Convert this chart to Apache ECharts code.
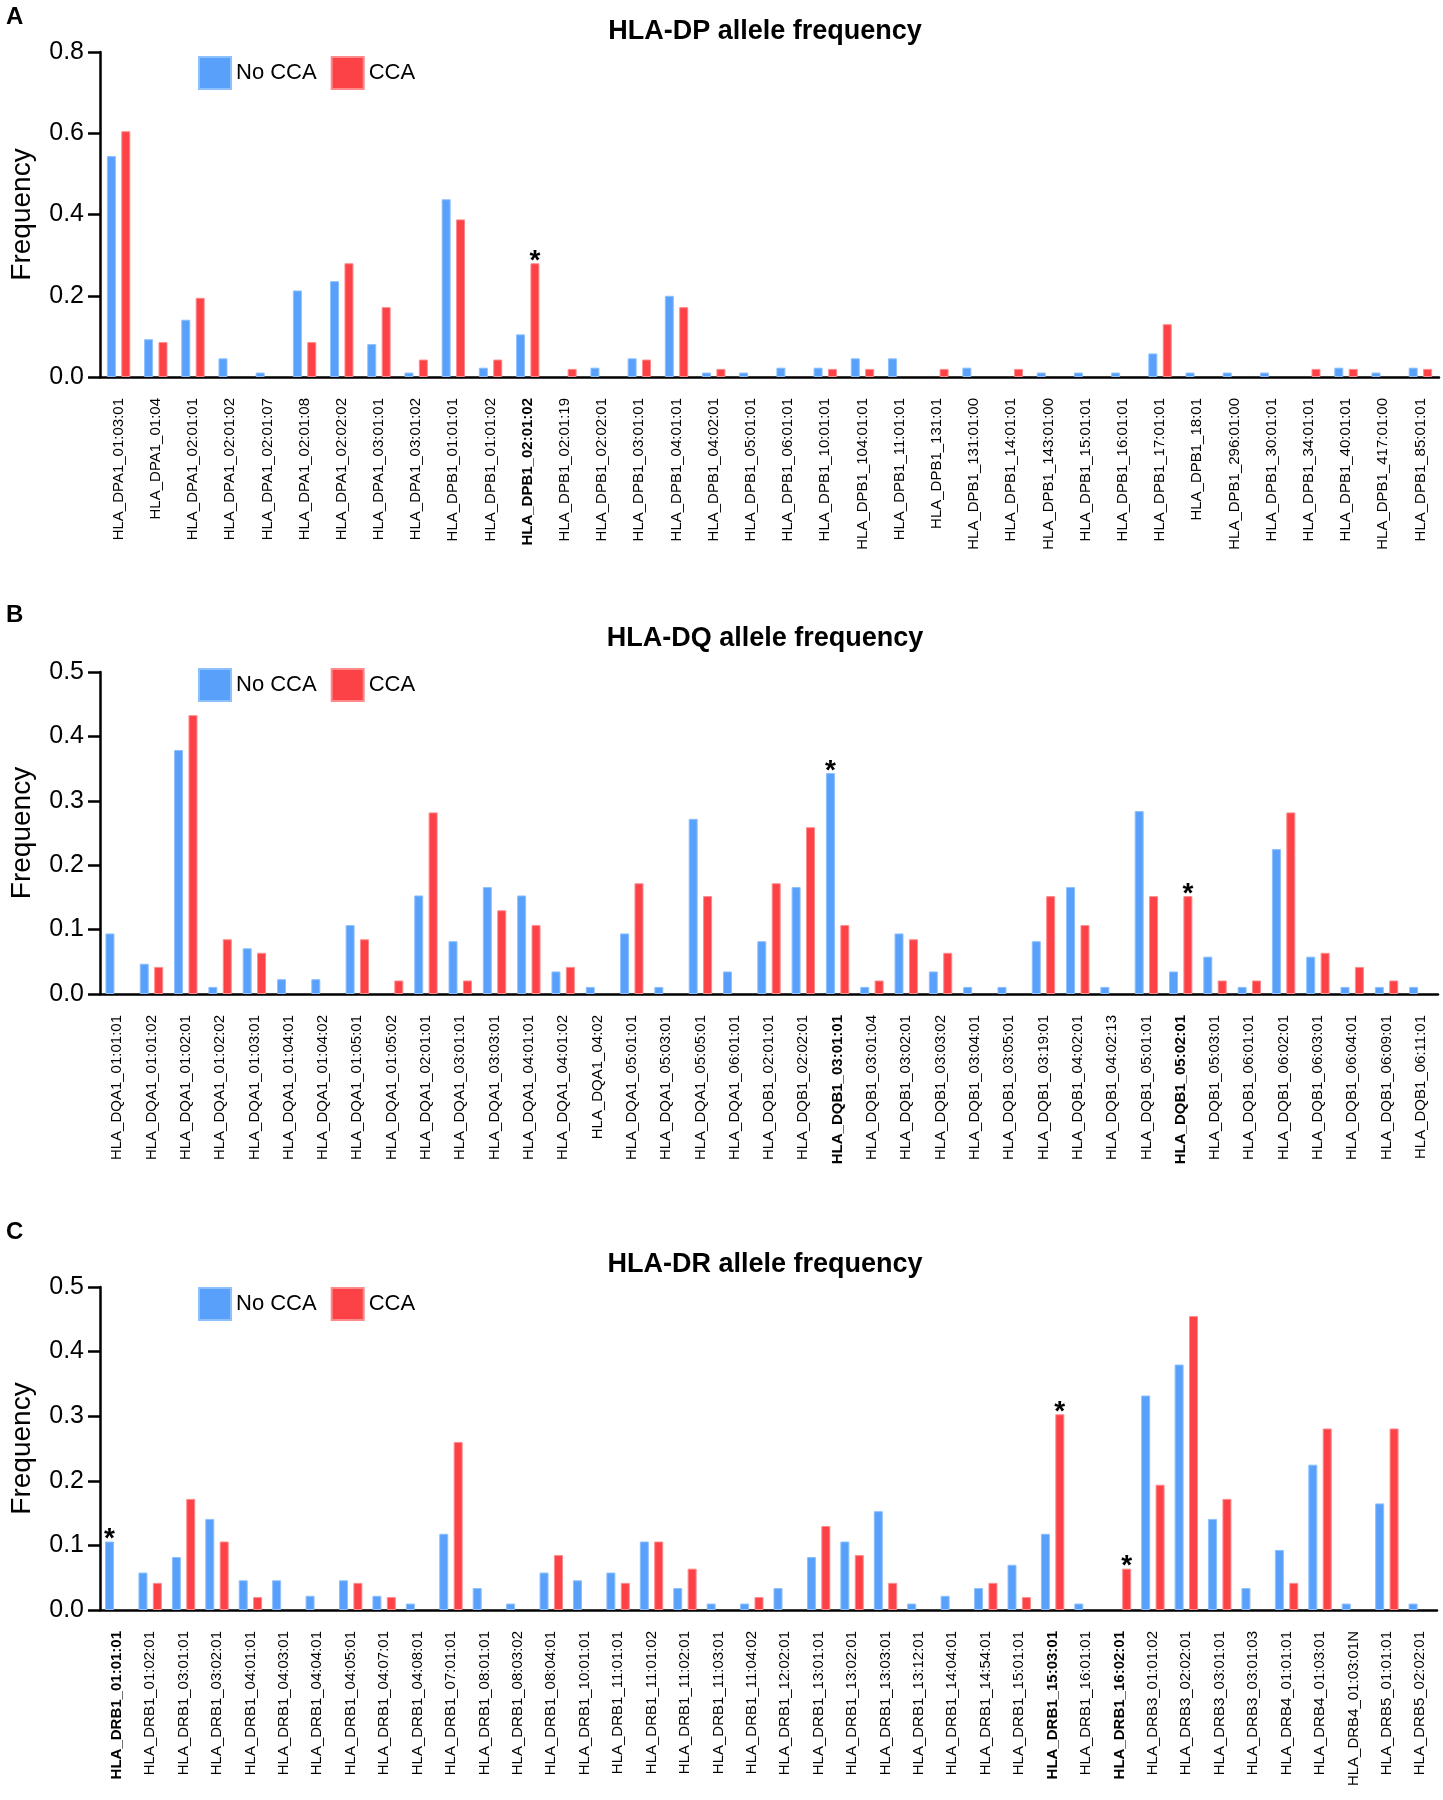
<!DOCTYPE html>
<html>
<head>
<meta charset="utf-8">
<script src="https://cdn.jsdelivr.net/npm/echarts@6/dist/echarts.min.js"></script>
<style>
html,body{margin:0;padding:0;background:#fff;}
#chart{width:1443px;height:1800px;}
</style>
</head>
<body>
<div id="chart"></div>
<script>
// ---------- Panel A : HLA-DP ----------
const catsA = ['HLA_DPA1_01:03:01','HLA_DPA1_01:04','HLA_DPA1_02:01:01','HLA_DPA1_02:01:02','HLA_DPA1_02:01:07','HLA_DPA1_02:01:08','HLA_DPA1_02:02:02','HLA_DPA1_03:01:01','HLA_DPA1_03:01:02','HLA_DPB1_01:01:01','HLA_DPB1_01:01:02','HLA_DPB1_02:01:02','HLA_DPB1_02:01:19','HLA_DPB1_02:02:01','HLA_DPB1_03:01:01','HLA_DPB1_04:01:01','HLA_DPB1_04:02:01','HLA_DPB1_05:01:01','HLA_DPB1_06:01:01','HLA_DPB1_10:01:01','HLA_DPB1_104:01:01','HLA_DPB1_11:01:01','HLA_DPB1_131:01','HLA_DPB1_131:01:00','HLA_DPB1_14:01:01','HLA_DPB1_143:01:00','HLA_DPB1_15:01:01','HLA_DPB1_16:01:01','HLA_DPB1_17:01:01','HLA_DPB1_18:01','HLA_DPB1_296:01:00','HLA_DPB1_30:01:01','HLA_DPB1_34:01:01','HLA_DPB1_40:01:01','HLA_DPB1_417:01:00','HLA_DPB1_85:01:01'];
const noCcaA = [0.544,0.093,0.141,0.046,0.011,0.213,0.236,0.081,0.011,0.4375,0.023,0.105,null,0.023,0.046,0.200,0.011,0.011,0.023,0.023,0.046,0.046,null,0.023,null,0.011,0.011,0.011,0.058,0.011,0.011,0.011,null,0.023,0.011,0.023];
const ccaA = [0.605,0.086,0.195,null,null,0.086,0.280,0.172,0.043,0.388,0.043,0.280,0.020,null,0.043,0.172,0.020,null,null,0.020,0.020,null,0.020,null,0.020,null,null,null,0.130,null,null,null,0.020,0.020,null,0.020];
const boldA = ['HLA_DPB1_02:01:02'];
const starsA = [['CCA','HLA_DPB1_02:01:02']];
const yTicksA = [0, 0.2, 0.4, 0.6, 0.8];

// ---------- Panel B : HLA-DQ ----------
const catsB = ['HLA_DQA1_01:01:01','HLA_DQA1_01:01:02','HLA_DQA1_01:02:01','HLA_DQA1_01:02:02','HLA_DQA1_01:03:01','HLA_DQA1_01:04:01','HLA_DQA1_01:04:02','HLA_DQA1_01:05:01','HLA_DQA1_01:05:02','HLA_DQA1_02:01:01','HLA_DQA1_03:01:01','HLA_DQA1_03:03:01','HLA_DQA1_04:01:01','HLA_DQA1_04:01:02','HLA_DQA1_04:02','HLA_DQA1_05:01:01','HLA_DQA1_05:03:01','HLA_DQA1_05:05:01','HLA_DQA1_06:01:01','HLA_DQB1_02:01:01','HLA_DQB1_02:02:01','HLA_DQB1_03:01:01','HLA_DQB1_03:01:04','HLA_DQB1_03:02:01','HLA_DQB1_03:03:02','HLA_DQB1_03:04:01','HLA_DQB1_03:05:01','HLA_DQB1_03:19:01','HLA_DQB1_04:02:01','HLA_DQB1_04:02:13','HLA_DQB1_05:01:01','HLA_DQB1_05:02:01','HLA_DQB1_05:03:01','HLA_DQB1_06:01:01','HLA_DQB1_06:02:01','HLA_DQB1_06:03:01','HLA_DQB1_06:04:01','HLA_DQB1_06:09:01','HLA_DQB1_06:11:01'];
const noCcaB = [0.094,0.047,0.379,0.011,0.071,0.023,0.023,0.107,null,0.153,0.082,0.166,0.153,0.035,0.011,0.094,0.011,0.272,0.035,0.082,0.166,0.343,0.011,0.094,0.035,0.011,0.011,0.082,0.166,0.011,0.284,0.035,0.058,0.011,0.225,0.058,0.011,0.011,0.011];
const ccaB = [null,0.042,0.433,0.085,0.064,null,null,0.085,0.021,0.282,0.021,0.130,0.107,0.042,null,0.172,null,0.152,null,0.172,0.259,0.107,0.021,0.085,0.064,null,null,0.152,0.107,null,0.152,0.152,0.021,0.021,0.282,0.064,0.042,0.021,null];
const boldB = ['HLA_DQB1_03:01:01','HLA_DQB1_05:02:01'];
const starsB = [['No CCA','HLA_DQB1_03:01:01'],['CCA','HLA_DQB1_05:02:01']];
const yTicksB = [0, 0.1, 0.2, 0.3, 0.4, 0.5];

// ---------- Panel C : HLA-DR ----------
const catsC = ['HLA_DRB1_01:01:01','HLA_DRB1_01:02:01','HLA_DRB1_03:01:01','HLA_DRB1_03:02:01','HLA_DRB1_04:01:01','HLA_DRB1_04:03:01','HLA_DRB1_04:04:01','HLA_DRB1_04:05:01','HLA_DRB1_04:07:01','HLA_DRB1_04:08:01','HLA_DRB1_07:01:01','HLA_DRB1_08:01:01','HLA_DRB1_08:03:02','HLA_DRB1_08:04:01','HLA_DRB1_10:01:01','HLA_DRB1_11:01:01','HLA_DRB1_11:01:02','HLA_DRB1_11:02:01','HLA_DRB1_11:03:01','HLA_DRB1_11:04:02','HLA_DRB1_12:02:01','HLA_DRB1_13:01:01','HLA_DRB1_13:02:01','HLA_DRB1_13:03:01','HLA_DRB1_13:12:01','HLA_DRB1_14:04:01','HLA_DRB1_14:54:01','HLA_DRB1_15:01:01','HLA_DRB1_15:03:01','HLA_DRB1_16:01:01','HLA_DRB1_16:02:01','HLA_DRB3_01:01:02','HLA_DRB3_02:02:01','HLA_DRB3_03:01:01','HLA_DRB3_03:01:03','HLA_DRB4_01:01:01','HLA_DRB4_01:03:01','HLA_DRB4_01:03:01N','HLA_DRB5_01:01:01','HLA_DRB5_02:02:01'];
const noCcaC = [0.106,0.058,0.082,0.141,0.046,0.046,0.022,0.046,0.022,0.010,0.118,0.034,0.010,0.058,0.046,0.058,0.106,0.034,0.010,0.010,0.034,0.082,0.106,0.153,0.010,0.022,0.034,0.070,0.118,0.010,null,0.332,0.380,0.141,0.034,0.093,0.225,0.010,0.165,0.010];
const ccaC = [null,0.042,0.172,0.106,0.020,null,null,0.042,0.020,null,0.260,null,null,0.085,null,0.042,0.106,0.064,null,0.020,null,0.130,0.085,0.042,null,null,0.042,0.020,0.303,null,0.064,0.194,0.455,0.172,null,0.042,0.281,null,0.281,null];
const boldC = ['HLA_DRB1_01:01:01','HLA_DRB1_15:03:01','HLA_DRB1_16:02:01'];
const starsC = [['No CCA','HLA_DRB1_01:01:01'],['CCA','HLA_DRB1_15:03:01'],['CCA','HLA_DRB1_16:02:01']];
const yTicksC = [0, 0.1, 0.2, 0.3, 0.4, 0.5];

const titles = ['HLA-DP allele frequency','HLA-DQ allele frequency','HLA-DR allele frequency'];
const letters = ['A','B','C'];
const seriesNames = ['No CCA','CCA'];

// ---------- styling / layout ----------
const FONT = '"Liberation Sans", Arial, Helvetica, sans-serif';
const BLUE = '#58A0FA', RED = '#FC4246';
const BLUE_EDGE = '#8CC0FF', RED_EDGE = '#FF8A8C';
const grids = [
  {left: 91, top: 52, width: 1348, height: 325},
  {left: 92, top: 672, width: 1346, height: 322},
  {left: 92, top: 1287, width: 1345, height: 323}
];
const titleY = [32, 639, 1265];
const letterY = [17, 615, 1232];
const legendTop = [51, 663, 1282];

const panels = [
  {cats: catsA, blue: noCcaA, red: ccaA, bold: boldA, stars: starsA, ticks: yTicksA},
  {cats: catsB, blue: noCcaB, red: ccaB, bold: boldB, stars: starsB, ticks: yTicksB},
  {cats: catsC, blue: noCcaC, red: ccaC, bold: boldC, stars: starsC, ticks: yTicksC}
];

const option = {
  animation: false,
  backgroundColor: '#fff',
  textStyle: {fontFamily: FONT, color: '#000'},
  grid: [], xAxis: [], yAxis: [], series: [], legend: [], graphic: []
};

panels.forEach((p, k) => {
  option.grid.push(Object.assign({containLabel: false}, grids[k]));
  option.xAxis.push({
    type: 'category', gridIndex: k, data: p.cats,
    axisLine: {lineStyle: {color: '#000', width: 2.5}},
    axisTick: {alignWithLabel: true, length: 13, lineStyle: {color: '#000', width: 2.5}},
    axisLabel: {
      interval: 0, rotate: 90, margin: 21, fontSize: 15, color: '#000', fontFamily: FONT,
      formatter: v => p.bold.indexOf(v) >= 0 ? '{b|' + v + '}' : v,
      rich: {b: {fontWeight: 'bold', fontSize: 15, color: '#000', fontFamily: FONT}}
    }
  });
  const step = p.ticks[1] - p.ticks[0];
  option.yAxis.push({
    type: 'value', gridIndex: k, min: p.ticks[0], max: p.ticks[p.ticks.length - 1], interval: step,
    name: 'Frequency', nameLocation: 'middle', nameGap: 64,
    nameTextStyle: {fontSize: 28, color: '#000', fontFamily: FONT},
    axisLine: {show: true, lineStyle: {color: '#000', width: 2.5}},
    axisTick: {show: true, length: 12, lineStyle: {color: '#000', width: 2.5}},
    axisLabel: {fontSize: 25, color: '#000', margin: 16, fontFamily: FONT, formatter: v => v.toFixed(1)},
    splitLine: {show: false}
  });
  const mk = (vals, name) => vals.map((v, i) => {
    const starred = p.stars.some(s => s[0] === name && s[1] === p.cats[i]);
    return starred ? {value: v, label: {show: true}} : (v === null ? '-' : v);
  });
  [[p.blue, 'No CCA', BLUE, BLUE_EDGE], [p.red, 'CCA', RED, RED_EDGE]].forEach(([vals, name, col, edge]) => {
    option.series.push({
      type: 'bar', name: name, xAxisIndex: k, yAxisIndex: k,
      data: mk(vals, name), barWidth: 9, barGap: '60%',
      itemStyle: {color: col, borderColor: edge, borderWidth: 1},
      label: {show: false, position: 'top', formatter: '*', fontSize: 28, fontWeight: 'bold',
              color: '#000', distance: 0, offset: [0, 12], fontFamily: FONT},
      emphasis: {disabled: true}
    });
  });
  option.legend.push({
    data: seriesNames, left: 193, top: legendTop[k], orient: 'horizontal',
    itemWidth: 32, itemHeight: 32, itemGap: 14, icon: 'rect',
    textStyle: {fontSize: 22, color: '#000', fontFamily: FONT, padding: [4, 0, 0, 0]},
    selectedMode: false
  });
  option.graphic.push({
    type: 'text', x: 765, y: titleY[k],
    style: {text: titles[k], font: 'bold 27px ' + FONT, fill: '#000', textAlign: 'center', textVerticalAlign: 'middle'}
  });
  option.graphic.push({
    type: 'text', x: 6, y: letterY[k],
    style: {text: letters[k], font: 'bold 24px ' + FONT, fill: '#000', textAlign: 'left', textVerticalAlign: 'middle'}
  });
});

const chart = echarts.init(document.getElementById('chart'), null, {renderer: 'canvas'});
chart.setOption(option);
</script>
</body>
</html>
